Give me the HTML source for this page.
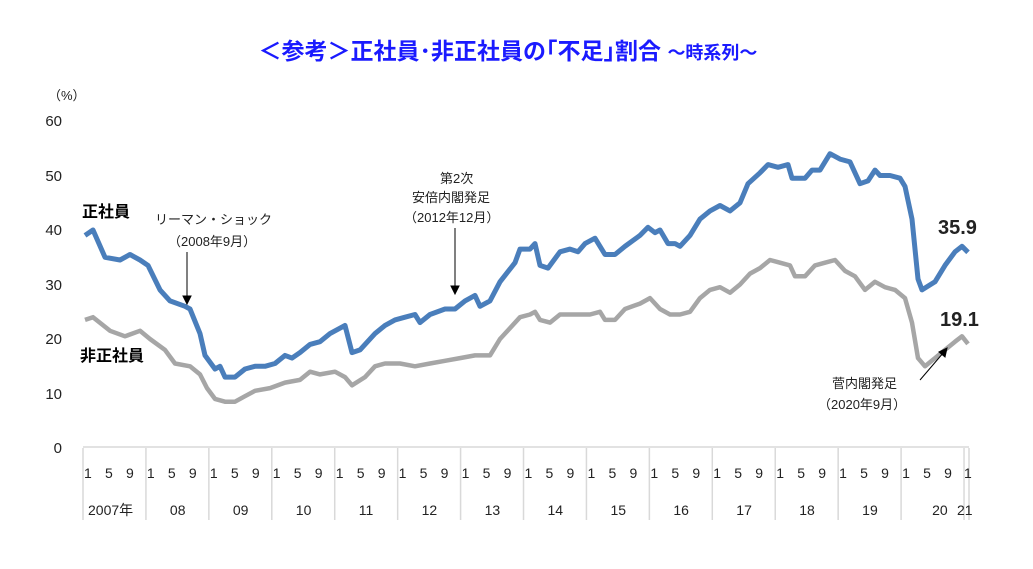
<!DOCTYPE html>
<html><head><meta charset="utf-8"><style>
body{margin:0;background:#fff;width:1033px;height:564px;overflow:hidden}
text{font-family:"Liberation Sans","Noto Sans CJK JP",sans-serif}
</style></head><body>
<svg id="s" width="1033" height="564" xmlns="http://www.w3.org/2000/svg">
<text x="508" y="59" text-anchor="middle" font-size="23" font-weight="bold" fill="#1a1aff">＜参考＞正社員･非正社員の｢不足｣割合 <tspan font-size="18">～時系列～</tspan></text>
<text x="48" y="100" font-size="13" fill="#222">（%）</text>
<g font-size="15" fill="#222" text-anchor="end">
<text x="62" y="126">60</text><text x="62" y="181">50</text><text x="62" y="235">40</text><text x="62" y="290">30</text><text x="62" y="344">20</text><text x="62" y="399">10</text><text x="62" y="453">0</text>
</g>
<g id="grid" stroke="#d9d9d9" stroke-width="1.5"></g>
<g id="lab" font-size="14" fill="#222"></g>
<polyline id="b" fill="none" stroke="#4a7ebb" stroke-width="5" stroke-linejoin="round"/>
<polyline id="g" fill="none" stroke="#a6a6a6" stroke-width="4.5" stroke-linejoin="round"/>
<text x="82" y="217" font-size="16" font-weight="bold" fill="#000">正社員</text>
<text x="80" y="361" font-size="16" font-weight="bold" fill="#000">非正社員</text>
<text x="938" y="234" font-size="20" font-weight="bold" fill="#222">35.9</text>
<text x="940" y="326" font-size="20" font-weight="bold" fill="#222">19.1</text>
<g font-size="13" fill="#222">
<text x="155" y="224">リーマン・ショック</text>
<text x="168" y="246">（2008年9月）</text>
<text x="440" y="183">第2次</text>
<text x="412" y="202">安倍内閣発足</text>
<text x="404" y="222">（2012年12月）</text>
<text x="832" y="388">菅内閣発足</text>
<text x="818" y="409">（2020年9月）</text>
</g>
<g stroke="#000" stroke-width="1" fill="#000">
<line x1="187" y1="252" x2="187" y2="300"/><polygon points="183,296 191,296 187,304"/>
<line x1="455" y1="228" x2="455" y2="290"/><polygon points="451,286 459,286 455,294"/>
<line x1="920" y1="380" x2="944" y2="352"/><polygon points="939,352 947,348 945,357"/>
</g>
</svg>
<script>
var B=[[85,39],[93,40],[105,35],[120,34.5],[130,35.5],[140,34.5],[148,33.5],[160,29],[170,27],[185,26],[190,25.5],[200,21],[205,17],[215,14.5],[220,15],[225,13],[235,13],[245,14.5],[255,15],[265,15],[275,15.5],[285,17],[292,16.5],[300,17.5],[310,19],[320,19.5],[330,21],[345,22.5],[352,17.5],[360,18],[375,21],[385,22.5],[395,23.5],[405,24],[415,24.5],[420,23],[430,24.5],[445,25.5],[455,25.5],[465,27],[475,28],[480,26],[490,27],[500,30.5],[515,34],[520,36.5],[530,36.5],[535,37.5],[540,33.5],[548,33],[560,36],[570,36.5],[578,36],[585,37.5],[595,38.5],[605,35.5],[615,35.5],[625,37],[640,39],[648,40.5],[655,39.5],[660,40],[668,37.5],[675,37.5],[680,37],[690,39],[700,42],[710,43.5],[720,44.5],[730,43.5],[740,45],[748,48.5],[760,50.5],[768,52],[778,51.5],[788,52],[792,49.5],[805,49.5],[812,51],[820,51],[830,54],[840,53],[850,52.5],[860,48.5],[868,49],[875,51],[880,50],[890,50],[900,49.5],[905,48],[912,42],[918,31],[922,29],[935,30.5],[945,33.5],[955,36],[962,37],[968,35.9]];
var G=[[85,23.5],[93,24],[110,21.5],[125,20.5],[140,21.5],[150,20],[165,18],[175,15.5],[190,15],[200,13.5],[207,11],[215,9],[225,8.5],[235,8.5],[245,9.5],[255,10.5],[270,11],[285,12],[300,12.5],[310,14],[320,13.5],[335,14],[345,13],[352,11.5],[365,13],[375,15],[385,15.5],[400,15.5],[415,15],[430,15.5],[445,16],[460,16.5],[475,17],[490,17],[500,20],[510,22],[520,24],[530,24.5],[535,25],[540,23.5],[550,23],[560,24.5],[575,24.5],[590,24.5],[600,25],[605,23.5],[615,23.5],[625,25.5],[640,26.5],[650,27.5],[660,25.5],[670,24.5],[680,24.5],[690,25],[700,27.5],[710,29],[720,29.5],[730,28.5],[740,30],[750,32],[760,33],[770,34.5],[780,34],[790,33.5],[795,31.5],[805,31.5],[815,33.5],[825,34],[835,34.5],[845,32.5],[855,31.5],[865,29],[875,30.5],[885,29.5],[895,29],[905,27.5],[912,23],[918,16.5],[925,15],[935,16.5],[945,18],[955,19.5],[962,20.5],[968,19.1]];
function p(a){return a.map(function(d){return d[0]+","+(448-d[1]*5.45).toFixed(1)}).join(" ")}
document.getElementById("b").setAttribute("points",p(B));
document.getElementById("g").setAttribute("points",p(G));
var ns="http://www.w3.org/2000/svg",gr=document.getElementById("grid"),lb=document.getElementById("lab");
function L(x1,y1,x2,y2){var l=document.createElementNS(ns,"line");l.setAttribute("x1",x1);l.setAttribute("y1",y1);l.setAttribute("x2",x2);l.setAttribute("y2",y2);gr.appendChild(l);}
function T(x,y,s){var t=document.createElementNS(ns,"text");t.setAttribute("x",x);t.setAttribute("y",y);t.textContent=s;lb.appendChild(t);}
L(83,447,969,447);
var yrs=["2007年","08","09","10","11","12","13","14","15","16","17","18","19","20"];
for(var k=0;k<=14;k++){var x=83+62.93*k;L(x,448,x,520);}
L(969,448,969,520);
for(var k=0;k<14;k++){var x=83+62.93*k;T(x+1,478,"1");T(x+22,478,"5");T(x+43,478,"9");
var t=yrs[k];T(x+(k==0?5:(k==13?31:24)),515,t);}
T(964,478,"1");T(957,515,"21");
</script>
</body></html>
